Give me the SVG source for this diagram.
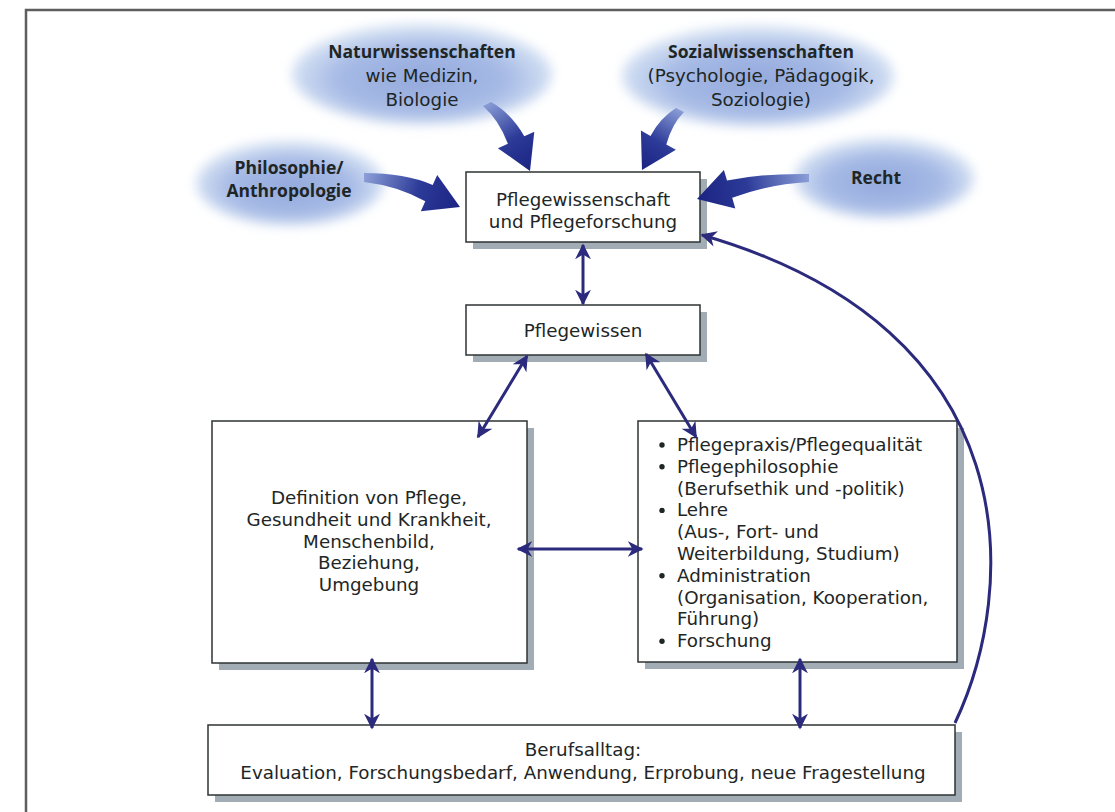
<svg xmlns="http://www.w3.org/2000/svg" width="1115" height="812" viewBox="0 0 1115 812">
<defs>
<style>
.t{font-family:"DejaVu Sans","Open Sans",sans-serif;font-size:18.3px;fill:#1e2626}
.b{font-family:"Open Sans","Liberation Sans",sans-serif;font-weight:bold;font-size:17.5px}
.box{fill:#fff;stroke:#2e3333;stroke-width:1.5}
.sh{fill:#a2acb5}
.con{fill:none;stroke:#2b2a7c;stroke-width:3}
.dbl{marker-start:url(#ah);marker-end:url(#ah)}
</style>
<radialGradient id="cg" cx="0.5" cy="0.55" r="0.5">
<stop offset="0" stop-color="#93a9dc"/>
<stop offset="0.65" stop-color="#a6bae5"/>
<stop offset="1" stop-color="#d3e0f3"/>
</radialGradient>
<filter id="blur" x="-20%" y="-30%" width="140%" height="160%">
<feGaussianBlur stdDeviation="6"/>
</filter>
<marker id="ah" viewBox="0 0 10 10" refX="9" refY="5" markerWidth="5.3" markerHeight="5.3" orient="auto-start-reverse" markerUnits="strokeWidth">
<path d="M0,0 L10,5 L0,10 L3,5 z" fill="#2b2a7c"/>
</marker>
<linearGradient id="gNat" gradientUnits="userSpaceOnUse" x1="486" y1="104" x2="530" y2="171"><stop offset="0" stop-color="#8a9dd6"/><stop offset="0.55" stop-color="#2c3a98"/><stop offset="1" stop-color="#1c2482"/></linearGradient>
<linearGradient id="gSoz" gradientUnits="userSpaceOnUse" x1="680" y1="110" x2="642" y2="170"><stop offset="0" stop-color="#8a9dd6"/><stop offset="0.55" stop-color="#2c3a98"/><stop offset="1" stop-color="#1c2482"/></linearGradient>
<linearGradient id="gPhi" gradientUnits="userSpaceOnUse" x1="365" y1="177" x2="460" y2="207"><stop offset="0" stop-color="#8a9dd6"/><stop offset="0.55" stop-color="#2c3a98"/><stop offset="1" stop-color="#1c2482"/></linearGradient>
<linearGradient id="gRec" gradientUnits="userSpaceOnUse" x1="808" y1="178" x2="697" y2="199"><stop offset="0" stop-color="#8a9dd6"/><stop offset="0.55" stop-color="#2c3a98"/><stop offset="1" stop-color="#1c2482"/></linearGradient>
</defs>
<rect width="1115" height="812" fill="#fff"/>
<path d="M26 812 V10 H1115" fill="none" stroke="#5e5e5e" stroke-width="2.5"/>

<g id="cloud-natur">
<ellipse cx="422" cy="74" rx="130" ry="50" fill="url(#cg)" filter="url(#blur)"/>
<text class="t" text-anchor="middle"><tspan class="b" x="422" y="58">Naturwissenschaften</tspan><tspan x="422" y="82">wie Medizin,</tspan><tspan x="422" y="106">Biologie</tspan></text>
</g>
<g id="cloud-sozial">
<ellipse cx="758" cy="76" rx="136" ry="50" fill="url(#cg)" filter="url(#blur)"/>
<text class="t" text-anchor="middle"><tspan class="b" x="761" y="58">Sozialwissenschaften</tspan><tspan x="761" y="82">(Psychologie, Pädagogik,</tspan><tspan x="761" y="106">Soziologie)</tspan></text>
</g>
<g id="cloud-philosophie">
<ellipse cx="290" cy="183" rx="94" ry="42" fill="url(#cg)" filter="url(#blur)"/>
<text class="t b" text-anchor="middle"><tspan x="289" y="174">Philosophie/</tspan><tspan x="289" y="197">Anthropologie</tspan></text>
</g>
<g id="cloud-recht">
<ellipse cx="884" cy="178" rx="90" ry="40" fill="url(#cg)" filter="url(#blur)"/>
<text class="t b" text-anchor="middle" x="876" y="184">Recht</text>
</g>

<g id="box-pflegewissenschaft">
<rect class="sh" x="473" y="179" width="234" height="70"/>
<rect class="box" x="466" y="172" width="234" height="70"/>
<text class="t" text-anchor="middle"><tspan x="583" y="206">Pflegewissenschaft</tspan><tspan x="583" y="228">und Pflegeforschung</tspan></text>
</g>
<g id="box-pflegewissen">
<rect class="sh" x="473" y="312" width="234" height="50"/>
<rect class="box" x="466" y="305" width="234" height="50"/>
<text class="t" text-anchor="middle" x="583" y="337">Pflegewissen</text>
</g>
<g id="box-definition">
<rect class="sh" x="219" y="428" width="315" height="242"/>
<rect class="box" x="212" y="421" width="315" height="242"/>
<text class="t" text-anchor="middle"><tspan x="369" y="504">Definition von Pflege,</tspan><tspan x="369" y="525.8">Gesundheit und Krankheit,</tspan><tspan x="369" y="547.6">Menschenbild,</tspan><tspan x="369" y="569.4">Beziehung,</tspan><tspan x="369" y="591.2">Umgebung</tspan></text>
</g>
<g id="box-bereiche">
<rect class="sh" x="645" y="428" width="319" height="241"/>
<rect class="box" x="638" y="421" width="319" height="241"/>
<g fill="#1e2626"><circle cx="662" cy="445" r="2.7"/><circle cx="662" cy="466.8" r="2.7"/><circle cx="662" cy="510.4" r="2.7"/><circle cx="662" cy="575.8" r="2.7"/><circle cx="662" cy="641.2" r="2.7"/></g>
<text class="t"><tspan x="677" y="451">Pflegepraxis/Pflegequalität</tspan><tspan x="677" y="472.8">Pflegephilosophie</tspan><tspan x="677" y="494.6">(Berufsethik und -politik)</tspan><tspan x="677" y="516.4">Lehre</tspan><tspan x="677" y="538.2">(Aus-, Fort- und</tspan><tspan x="677" y="560">Weiterbildung, Studium)</tspan><tspan x="677" y="581.8">Administration</tspan><tspan x="677" y="603.6">(Organisation, Kooperation,</tspan><tspan x="677" y="625.4">Führung)</tspan><tspan x="677" y="647.2">Forschung</tspan></text>
</g>
<g id="box-berufsalltag">
<rect class="sh" x="215" y="732" width="747" height="70"/>
<rect class="box" x="208" y="725" width="747" height="70"/>
<text class="t" text-anchor="middle"><tspan x="583" y="756">Berufsalltag:</tspan><tspan x="583" y="779">Evaluation, Forschungsbedarf, Anwendung, Erprobung, neue Fragestellung</tspan></text>
</g>

<g id="connectors">
<path fill="url(#gNat)" d="M483 106 Q499 120 507.9 143.7 L497.9 148.2 L530 171 L534.3 131.8 L524.3 136.3 Q511 113 491 102 Z"/>
<path fill="url(#gSoz)" d="M676 108 Q660 118 650.5 135.9 L640.9 130.6 L642 170 L675.9 149.8 L666.3 144.5 Q672 124 684 112 Z"/>
<path fill="url(#gPhi)" d="M364 173 Q405 173 432.7 184.9 L437.2 174.9 L460 207 L420.8 211.3 L425.3 201.3 Q398 186 364 182 Z"/>
<path fill="url(#gRec)" d="M809 174 Q765 173 727 180.6 L723.9 170 L697 199 L735.3 208.4 L732.2 197.8 Q770 184 809 182 Z"/>
<line class="con dbl" x1="583" y1="245" x2="583" y2="304"/>
<line class="con dbl" x1="527" y1="356" x2="478" y2="437"/>
<line class="con dbl" x1="646" y1="354" x2="696" y2="437"/>
<line class="con dbl" x1="518" y1="549" x2="642" y2="549"/>
<line class="con dbl" x1="372" y1="659" x2="372" y2="728"/>
<line class="con dbl" x1="800" y1="659" x2="800" y2="728"/>
<path class="con" marker-end="url(#ah)" d="M955 723 C1018 590 1032 330 702 235"/>
</g>
</svg>
